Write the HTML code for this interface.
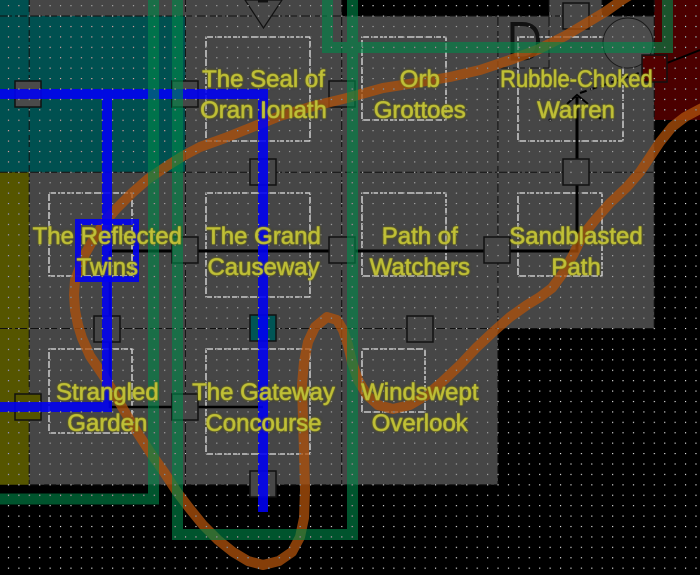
<!DOCTYPE html>
<html>
<head>
<meta charset="utf-8">
<style>
  html, body { margin: 0; padding: 0; background: #000; }
  #wrap { position: relative; width: 700px; height: 575px; overflow: hidden; background: #000; }
  svg { position: absolute; left: 0; top: 0; }
  .lbl {
    position: absolute; width: 300px; text-align: center;
    font-family: "Liberation Sans", Arial, sans-serif; font-size: 24px; line-height: 31px;
    color: #c0c038; white-space: nowrap;
    -webkit-text-stroke: 0.6px #b4b432;
    text-shadow: 0 0 1px #b0b030, 0 0 2px #8c8c1c, 0 0 3px rgba(70,70,0,0.7);
  }
  .sq { display: inline-block; transform: scaleX(0.915); }
</style>
</head>
<body>
<div id="wrap">
<svg width="700" height="575" viewBox="0 0 700 575">
  <defs>
    <pattern id="dots" patternUnits="userSpaceOnUse" x="7.9" y="5.1" width="10.4167" height="10.4167">
      <rect x="0" y="0" width="1.15" height="1.15" fill="#fff"/>
    </pattern>
  </defs>
  <rect width="700" height="575" fill="#000"/>
  <!-- regions -->
  <rect x="29.2" y="0" width="312.5" height="16" fill="#464646"/>
  <rect x="549" y="0" width="53" height="16" fill="#464646"/>
  <rect x="29.2" y="16" width="625" height="312.5" fill="#464646"/>
  <rect x="29.2" y="328.5" width="468.75" height="156.25" fill="#464646"/>
  <rect x="0" y="0" width="29.2" height="16" fill="#005050"/>
  <rect x="0" y="16" width="185.4" height="156.25" fill="#005050"/>
  <rect x="0" y="172.25" width="29.2" height="312.5" fill="#555500"/>
  <rect x="654.2" y="0" width="45.8" height="120" fill="#4b0000"/>

  <!-- grid lines -->
  <g stroke="#111" stroke-width="1" stroke-dasharray="12 3" fill="none">
    <path d="M29.2,0 V484.75 M185.4,0 V484.75 M341.7,0 V484.75 M497.9,16 V484.75 M654.2,0 V328.5 M549,0 V68 M602,0 V16"/>
    <path d="M0,16 H654.2 M0,172.25 H654.2 M0,328.5 H654.2 M29.2,484.75 H497.9 M497.9,68 H549"/>
  </g>

  <!-- room boxes -->
  <g stroke="#e4e4e4" stroke-width="1.3" stroke-dasharray="7 2" fill="none">
    <rect x="206" y="37" width="104" height="104"/>
    <rect x="362" y="37" width="84" height="83"/>
    <rect x="518" y="37" width="105" height="104"/>
    <rect x="49" y="193" width="83" height="83"/>
    <rect x="206" y="193" width="104" height="104"/>
    <rect x="362" y="193" width="84" height="83"/>
    <rect x="518" y="193" width="84" height="83"/>
    <rect x="49" y="349" width="83" height="84"/>
    <rect x="206" y="349" width="104" height="105"/>
    <rect x="362" y="349" width="63" height="63"/>
  </g>

  <!-- circle, triangle, D -->
  <circle cx="628" cy="43" r="25" fill="#4c4c4c" stroke="#1a1a1a" stroke-width="1"/>
  <polygon points="245,0 282,0 263.5,28" fill="#474747" stroke="#111" stroke-width="1.2"/>
  <rect x="258" y="0" width="10" height="2.5" fill="#111"/>
  <path d="M512.5,24 V58.5 H522 Q538,58.5 538,41 Q538,24 522,24 Z" fill="none" stroke="#111" stroke-width="4"/>

  <!-- black connectors -->
  <g stroke="#000" fill="none">
    <path d="M110,251 H577 V97" stroke-width="3"/>
    <path d="M110,251 V407 H263" stroke-width="2.6"/>
    <path d="M567,104 L577,95 L588,104" stroke-width="2"/>
    <path d="M580,93 L642,72" stroke-width="2" stroke-dasharray="7 4"/>
    <path d="M667,63 L700,50" stroke-width="2"/>
  </g>
  <circle cx="550" cy="120" r="1.4" fill="#000"/>
  <circle cx="600" cy="118" r="1.4" fill="#000"/>

  <!-- door squares -->
  <g stroke="#111" stroke-width="1.5">
    <rect x="15" y="81" width="26" height="26" fill="#4a4a4a"/>
    <rect x="172" y="81" width="26" height="26" fill="#474747"/>
    <rect x="329" y="81" width="26" height="26" fill="#474747"/>
    <rect x="250" y="159" width="26" height="26" fill="#474747"/>
    <rect x="172" y="237" width="26" height="26" fill="#474747"/>
    <rect x="329" y="237" width="26" height="26" fill="#474747"/>
    <rect x="484" y="237" width="26" height="26" fill="#474747"/>
    <rect x="563" y="159" width="26" height="26" fill="#474747"/>
    <rect x="563" y="3" width="26" height="26" fill="#474747"/>
    <rect x="94" y="316" width="26" height="26" fill="#474747"/>
    <rect x="250" y="315" width="26" height="26" fill="#005555"/>
    <rect x="407" y="316" width="26" height="26" fill="#474747"/>
    <rect x="15" y="394" width="26" height="26" fill="#555500"/>
    <rect x="172" y="394" width="26" height="26" fill="#474747"/>
    <rect x="250" y="471" width="26" height="26" fill="#474747"/>
    <rect x="642" y="55" width="25" height="27" fill="#520000"/>
  </g>

  <!-- orange curve -->
  <polyline fill="none" stroke="rgba(175,82,12,0.76)" stroke-width="10" stroke-linejoin="round" stroke-linecap="round"
    points="635,-8 622,0 605,12 590,21 565,36 537,50 510,60 480,70 450,77 415,83 383,88 347,98 310,107 280,116 250,128 225,138 200,147 183,156 167,166 148,179 132,193 117,208 104,223 93,240 85,254 80,267 75,280 74,295 75,310 78,325 82,338 90,356 103,375 114,393 125,412 137,432 150,452 164,472 177,492 190,509 203,525 218,540 233,552 248,561 263,565 279,561 292,552 300,537 304,518 305,490 304,452 303,420 302,385 304,362 308,342 315,327 327,317 337,320 343,330 348,345 352,362 358,380 367,395 378,405 393,409 410,405 427,395 443,381 460,365 476,348 493,332 510,317 527,305 540,297 552,288 563,273 573,255 583,235 595,220 610,203 627,187 640,172 650,157 660,142 672,127 685,117 700,109 715,102"/>

  <!-- blue -->
  <path d="M-5,94 H263 V512 M107,94 V407 H-5" fill="none" stroke="rgba(0,0,245,0.88)" stroke-width="10" stroke-linejoin="miter"/>
  <rect x="78" y="222" width="58" height="57" fill="none" stroke="rgba(0,0,245,0.88)" stroke-width="6"/>

  <!-- green -->
  <path d="M327.5,-5 V47.5 H667.5 V-5 M177.5,-5 V534.5 H352.5 V-5 M153.5,-5 V499 H-5" fill="none" stroke="rgba(0,135,72,0.62)" stroke-width="11" stroke-linejoin="miter"/>

  <!-- dot grid -->
  <rect width="700" height="575" fill="url(#dots)" style="mix-blend-mode:difference" opacity="0.9"/>
</svg>

<div class="lbl" style="left:113.5px; top:64.3px;">The Seal of<br>Oran Ionath</div>
<div class="lbl" style="left:269.8px; top:64.3px;">Orb<br>Grottoes</div>
<div class="lbl" style="left:426px; top:64.3px;"><span class="sq">Rubble-Choked</span><br>Warren</div>
<div class="lbl" style="left:-42.7px; top:220.6px;">The Reflected<br>Twins</div>
<div class="lbl" style="left:113.5px; top:220.6px;">The Grand<br>Causeway</div>
<div class="lbl" style="left:269.8px; top:220.6px;">Path of<br>Watchers</div>
<div class="lbl" style="left:426px; top:220.6px;">Sandblasted<br>Path</div>
<div class="lbl" style="left:-42.7px; top:376.8px;">Strangled<br>Garden</div>
<div class="lbl" style="left:113.5px; top:376.8px;">The Gateway<br>Concourse</div>
<div class="lbl" style="left:269.8px; top:376.8px;">Windswept<br>Overlook</div>
</div>
</body>
</html>
